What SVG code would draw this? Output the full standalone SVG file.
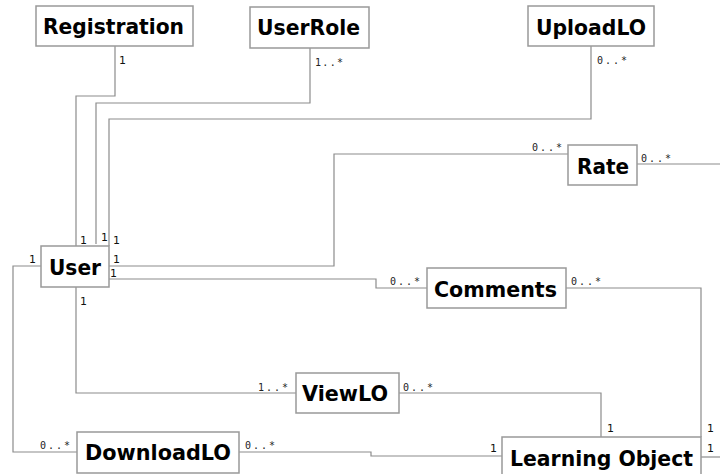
<svg xmlns="http://www.w3.org/2000/svg" width="720" height="474" viewBox="0 0 720 474">
<style>
.box{fill:#fff;stroke:#999;stroke-width:1.5}
.t{font-family:"DejaVu Sans",sans-serif;font-weight:bold;font-size:22px;fill:#000}
.c{fill:none;stroke:#8c8c8c;stroke-width:1.2}
.m{font-family:"DejaVu Sans Mono",monospace;font-size:10px;fill:#222}
.o{font-family:"DejaVu Sans",sans-serif;font-size:11px;fill:#111}
</style>
<rect width="720" height="474" fill="#fff"/>
<g id="connectors">
<polyline class="c" points="115,46 115,96 76,96 76,246"/>
<polyline class="c" points="310,48 310,103 96,103 96,244"/>
<polyline class="c" points="591,46 591,119 109,119 109,246"/>
<polyline class="c" points="568,154 334,154 334,266 109,266"/>
<polyline class="c" points="637,164 720,164"/>
<polyline class="c" points="106,279 376,279 376,288 427,288"/>
<polyline class="c" points="566,288 701,288 701,437"/>
<polyline class="c" points="41,266 13,266 13,452 77,452"/>
<polyline class="c" points="76,287 76,393 296,393"/>
<polyline class="c" points="399,393 601,393 601,437"/>
<polyline class="c" points="239,452 371,452 371,456 502,456"/>
<polyline class="c" points="701,457 720,457"/>
</g>
<g id="labels">
<text class="o" x="119" y="64">1</text>
<text class="m" x="315" y="66" textLength="28">1..*</text>
<text class="m" x="597" y="64" textLength="30">0..*</text>
<text class="m" x="532" y="151" textLength="30">0..*</text>
<text class="m" x="641" y="162" textLength="30">0..*</text>
<text class="o" x="80" y="244">1</text>
<text class="o" x="101" y="241">1</text>
<text class="o" x="113" y="244">1</text>
<text class="o" x="113" y="263">1</text>
<text class="o" x="110" y="277">1</text>
<text class="o" x="29" y="263">1</text>
<text class="o" x="80" y="305">1</text>
<text class="m" x="390" y="285" textLength="30">0..*</text>
<text class="m" x="571" y="285" textLength="30">0..*</text>
<text class="m" x="258" y="391" textLength="30">1..*</text>
<text class="m" x="403" y="391" textLength="30">0..*</text>
<text class="m" x="40" y="449" textLength="30">0..*</text>
<text class="m" x="245" y="449" textLength="30">0..*</text>
<text class="o" x="607" y="432">1</text>
<text class="o" x="490" y="452">1</text>
<text class="o" x="707" y="432">1</text>
<text class="o" x="707" y="452">1</text>
</g>
<g id="Registration"><rect class="box" x="36" y="6" width="157" height="40"/><text class="t" x="43" y="34" textLength="141" lengthAdjust="spacingAndGlyphs">Registration</text></g>
<g id="UserRole"><rect class="box" x="250" y="7" width="119" height="41"/><text class="t" x="257" y="35" textLength="103" lengthAdjust="spacingAndGlyphs">UserRole</text></g>
<g id="UploadLO"><rect class="box" x="528" y="6" width="126" height="40"/><text class="t" x="536" y="35" textLength="110" lengthAdjust="spacingAndGlyphs">UploadLO</text></g>
<g id="Rate"><rect class="box" x="568" y="145" width="69" height="40"/><text class="t" x="577" y="174" textLength="52" lengthAdjust="spacingAndGlyphs">Rate</text></g>
<g id="User"><rect class="box" x="41" y="246" width="68" height="41"/><text class="t" x="49" y="275" textLength="52" lengthAdjust="spacingAndGlyphs">User</text></g>
<g id="Comments"><rect class="box" x="427" y="268" width="139" height="40"/><text class="t" x="434" y="297" textLength="123" lengthAdjust="spacingAndGlyphs">Comments</text></g>
<g id="ViewLO"><rect class="box" x="296" y="373" width="103" height="40"/><text class="t" x="302" y="401" textLength="86" lengthAdjust="spacingAndGlyphs">ViewLO</text></g>
<g id="DownloadLO"><rect class="box" x="77" y="432" width="162" height="41"/><text class="t" x="85" y="460" textLength="146" lengthAdjust="spacingAndGlyphs">DownloadLO</text></g>
<g id="LearningObject"><rect class="box" x="502" y="437" width="199" height="45"/><text class="t" x="510" y="466" textLength="183" lengthAdjust="spacingAndGlyphs">Learning Object</text></g>
</svg>
